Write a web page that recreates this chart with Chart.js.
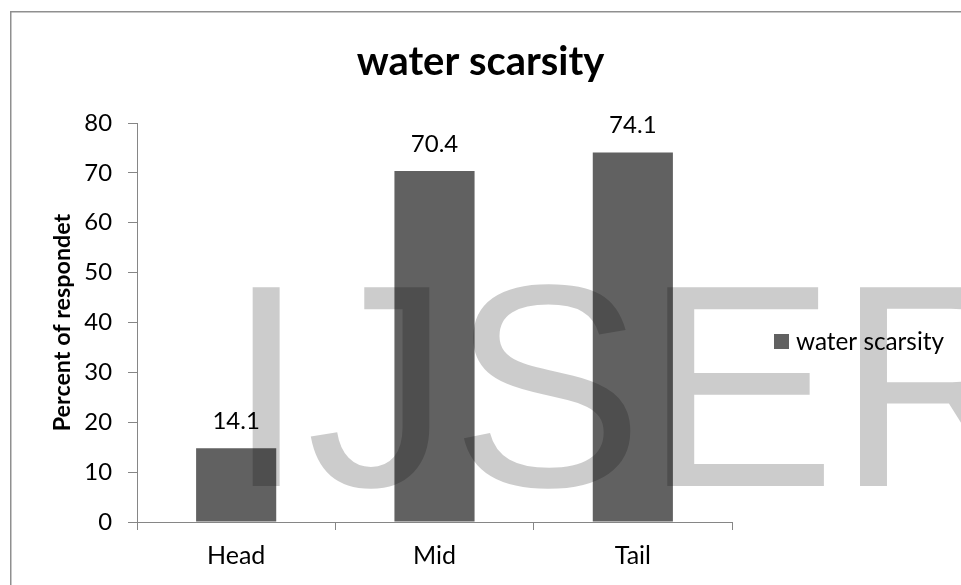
<!DOCTYPE html>
<html><head><meta charset="utf-8">
<script src="https://cdn.jsdelivr.net/npm/chart.js@4"></script>
<style>html,body{margin:0;padding:0;background:#fff}#wrap{width:961px;height:585px;position:relative}</style>
</head><body><div id="wrap"><canvas id="c"></canvas></div>
<script>
const categories = ['Head', 'Mid', 'Tail'];
const seriesName = 'water scarsity';
const values = [14.8, 70.4, 74.1];
const valueLabels = ['14.1', '70.4', '74.1'];
const yTicks = [0, 10, 20, 30, 40, 50, 60, 70, 80];
const chartTitle = 'water scarsity';
const yTitle = 'Percent of respondet';
const watermark = 'IJSER';

const FAMILY = 'Lato, Carlito, Calibri, sans-serif';
const BAR = '#616161';
const AXIS = '#868686';
const mctx = document.createElement('canvas').getContext('2d');
function fit(text, weight, ink) {
  mctx.font = weight + ' 100px ' + FAMILY;
  const m = mctx.measureText(text);
  const w = m.actualBoundingBoxLeft + m.actualBoundingBoxRight;
  return Math.round(1000 * ink / w) / 10;
}
const sTitle = fit(chartTitle, 'bold', 248);
const sTick = fit('80', 'normal', 26);
const sCat = fit('Head', 'normal', 54.4);
const sYTitle = fit(yTitle, 'bold', 216);
const sVal = fit('70.4', 'normal', 45.7);
const sLeg = fit(seriesName, 'normal', 147.6);

const AREA = {left: 137, top: 123, right: 732, bottom: 522};
const lhT = sTitle * 1.2;
const titleMid = 77 - 0.36 * sTitle;
const tPadTop = titleMid - lhT / 2;
const tPadBot = AREA.top - tPadTop - lhT;
const catMid = 565 - 0.36 * sCat;
const catPad = catMid - (AREA.bottom + 8) - 0.6 * sCat;
const yTitleMid = 71 - 0.36 * sYTitle;
const yTitlePad = yTitleMid - 0.6 * sYTitle;

const framePlugin = {
  id: 'frame',
  beforeDraw(chart) {
    const ctx = chart.ctx;
    ctx.save();
    ctx.fillStyle = '#fff';
    ctx.fillRect(0, 0, chart.width, chart.height);
    ctx.fillStyle = '#8f8f8f';
    ctx.fillRect(10, 11, chart.width - 10, 1.5);
    ctx.fillRect(10, 11, 1.5, chart.height - 11);
    ctx.restore();
  }
};
const valuePlugin = {
  id: 'values',
  afterDatasetsDraw(chart) {
    const ctx = chart.ctx;
    const meta = chart.getDatasetMeta(0);
    ctx.save();
    ctx.fillStyle = '#000';
    ctx.font = sVal + 'px ' + FAMILY;
    ctx.textAlign = 'center';
    ctx.textBaseline = 'alphabetic';
    meta.data.forEach((bar, i) => ctx.fillText(valueLabels[i], bar.x, bar.y - 19));
    ctx.restore();
  }
};
const legendPlugin = {
  id: 'sideLegend',
  afterDraw(chart) {
    const ctx = chart.ctx;
    const ds = chart.data.datasets[0];
    ctx.save();
    ctx.fillStyle = ds.backgroundColor;
    ctx.fillRect(774, 334, 15, 15);
    ctx.fillStyle = '#000';
    ctx.font = sLeg + 'px ' + FAMILY;
    ctx.textBaseline = 'alphabetic';
    ctx.fillText(ds.label, 796, 349.5);
    ctx.restore();
  }
};
const watermarkPlugin = {
  id: 'watermark',
  afterDraw(chart) {
    const ctx = chart.ctx;
    ctx.save();
    ctx.globalCompositeOperation = 'multiply';
    ctx.fillStyle = '#cccccc';
    ctx.font = '289px "Liberation Sans", Arial, sans-serif';
    ctx.textBaseline = 'alphabetic';
    ctx.fillText(watermark, 226, 486);
    ctx.restore();
  }
};

new Chart(document.getElementById('c'), {
  type: 'bar',
  data: {
    labels: categories,
    datasets: [{
      label: seriesName,
      data: values,
      backgroundColor: BAR,
      borderWidth: 0,
      categoryPercentage: 1,
      barPercentage: 0.404
    }]
  },
  options: {
    responsive: true,
    maintainAspectRatio: false,
    animation: false,
    events: [],
    layout: {padding: 0},
    plugins: {
      legend: {display: false},
      tooltip: {enabled: false},
      title: {
        display: true,
        text: chartTitle,
        color: '#000',
        font: {family: FAMILY, size: sTitle, weight: 'bold', lineHeight: 1.2},
        padding: {top: tPadTop, bottom: tPadBot}
      }
    },
    scales: {
      x: {
        grid: {display: true, offset: true, drawOnChartArea: false, drawTicks: true, tickLength: 8, color: AXIS, lineWidth: 1},
        border: {display: true, color: AXIS, width: 1},
        ticks: {color: '#000', font: {family: FAMILY, size: sCat, lineHeight: 1.2}, padding: catPad, maxRotation: 0},
        afterFit(s) { s.height = 585 - AREA.bottom; }
      },
      y: {
        min: 0, max: 80,
        afterBuildTicks(s) { s.ticks = yTicks.map(v => ({value: v})); },
        grid: {display: true, drawOnChartArea: false, drawTicks: true, tickLength: 9, color: AXIS, lineWidth: 1},
        border: {display: true, color: AXIS, width: 1},
        ticks: {color: '#000', font: {family: FAMILY, size: sTick}, padding: 16},
        title: {
          display: true, text: yTitle, color: '#000',
          font: {family: FAMILY, size: sYTitle, weight: 'bold', lineHeight: 1.2},
          padding: {top: yTitlePad, bottom: 0}
        },
        afterFit(s) { s.width = AREA.left; }
      },
      legendSpace: {
        type: 'linear',
        position: 'right',
        display: true,
        grid: {display: false},
        border: {display: false},
        ticks: {display: false},
        afterFit(s) { s.width = 961 - AREA.right; }
      }
    }
  },
  plugins: [framePlugin, valuePlugin, legendPlugin, watermarkPlugin]
});
</script>
</body></html>
